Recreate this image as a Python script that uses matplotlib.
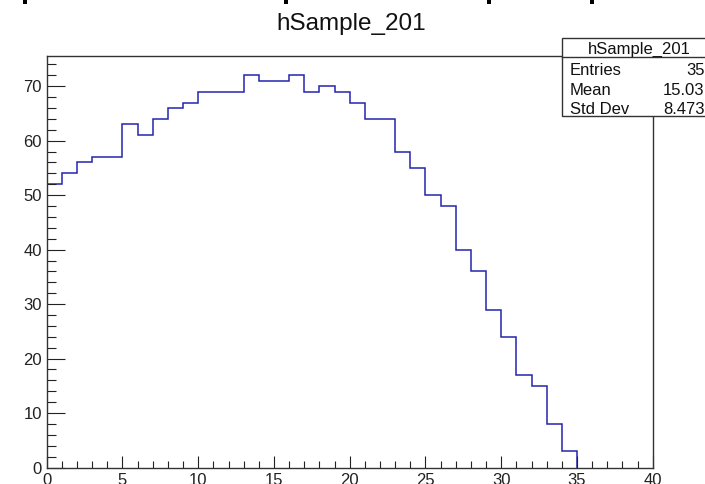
"""hSample_201 histogram drawn in ROOT style with a stats box."""
import matplotlib

matplotlib.use("Agg")
import matplotlib.pyplot as plt
from matplotlib.patches import Rectangle
from matplotlib.ticker import MultipleLocator

plt.rcParams["font.family"] = ["Liberation Sans", "DejaVu Sans"]

# bin contents, one per unit-wide bin from 0 to 35
bin_edges = list(range(0, 36))
counts = [52, 54, 56, 57, 57, 63, 61, 64, 66, 67,
          69, 69, 69, 72, 71, 71, 72, 69, 70, 69,
          67, 64, 64, 58, 55, 50, 48, 40, 36, 29,
          24, 17, 15, 8, 3]

hist_name = "hSample_201"
stat_names = ["Entries", "Mean", "Std Dev"]
stat_values = ["35", "15.03", "8.473"]

W, H = 705, 484


def fx(px):
    return px / W


def fy(py):
    return 1 - py / H


def main():
    fig = plt.figure(figsize=(W / 100, H / 100), dpi=100)
    ax = fig.add_axes([fx(46.7), fy(467.5), fx(652.7 - 46.7), (467.5 - 55.7) / H])

    ax.stairs(counts, bin_edges, color="#2424b0", linewidth=1.1)

    ax.set_xlim(0, 40)
    ax.set_ylim(0, max(counts) * 1.05)

    ax.xaxis.set_major_locator(MultipleLocator(5))
    ax.xaxis.set_minor_locator(MultipleLocator(1))
    ax.yaxis.set_major_locator(MultipleLocator(10))
    ax.yaxis.set_minor_locator(MultipleLocator(2))
    ax.tick_params(axis="both", which="both", direction="in", width=0.8,
                   color="#222222", labelsize=12, labelcolor="#222222")
    ax.tick_params(axis="x", which="major", length=9, pad=4)
    ax.tick_params(axis="x", which="minor", length=4.8)
    ax.tick_params(axis="y", which="major", length=13, pad=3.5)
    ax.tick_params(axis="y", which="minor", length=6.5)
    ax.tick_params(top=False, right=False, which="both")
    for sp in ax.spines.values():
        sp.set_linewidth(1.0)
        sp.set_color("#333333")

    fig.text(fx(351), fy(30), hist_name, ha="center", va="baseline",
             fontsize=17.5, color="#111111")

    # stats box in the top right corner
    fig.patches.append(Rectangle((fx(561.7), fy(115.7)), fx(716 - 561.7),
                                 (115.7 - 37.7) / H, transform=fig.transFigure,
                                 facecolor="white", edgecolor="#333333",
                                 linewidth=1.0, zorder=5))
    fig.lines.append(plt.Line2D([fx(561.7), fx(716)], [fy(57.3), fy(57.3)],
                                transform=fig.transFigure, color="#333333",
                                linewidth=1.0, zorder=6))
    fig.text(fx(639), fy(53.5), hist_name, ha="center", va="baseline",
             fontsize=12, color="#111111", zorder=7)
    baselines = [75, 95, 114.5]
    for name, val, yb in zip(stat_names, stat_values, baselines):
        fig.text(fx(569.5), fy(yb), name, ha="left", va="baseline",
                 fontsize=12, color="#111111", zorder=7)
        fig.text(fx(704.5), fy(yb), val, ha="right", va="baseline",
                 fontsize=12, color="#111111", zorder=7)

    # bits of the pad above peeking in at the top edge
    for xm in [24.7, 285.5, 488.8, 591.7]:
        fig.patches.append(Rectangle((fx(xm - 2), fy(4)), fx(4), 4 / H,
                                     transform=fig.transFigure,
                                     facecolor="black", edgecolor="none"))

    fig.savefig("out.png", dpi=100)


if __name__ == "__main__":
    main()
